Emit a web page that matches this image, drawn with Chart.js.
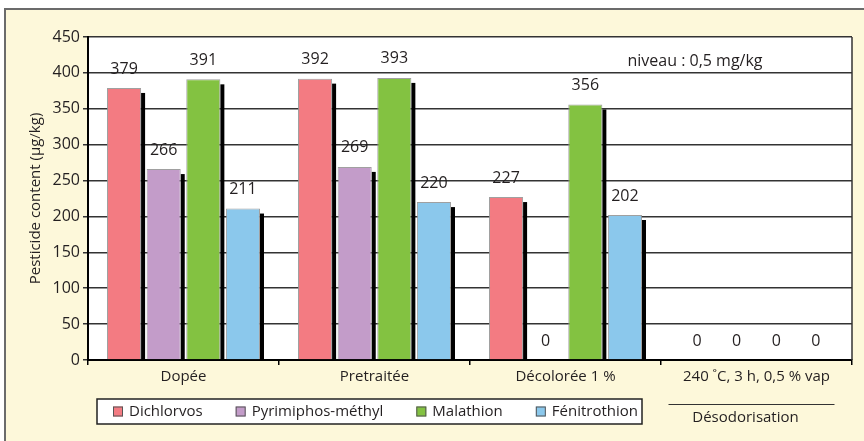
<!DOCTYPE html>
<html>
<head>
<meta charset="utf-8">
<script src="https://cdn.jsdelivr.net/npm/chart.js@4/dist/chart.umd.min.js"></script>
<style>
  html, body { margin: 0; padding: 0; background: #ffffff; }
  #wrap { width: 864px; height: 441px; position: relative; }
</style>
</head>
<body>
<div id="wrap"><canvas id="c" width="864" height="441"></canvas></div>
<script>
// Treatment stages and measured residues (µg/kg)
const categories = ['Dopée', 'Pretraitée', 'Décolorée 1 %', '240 ˚C, 3 h, 0,5 % vap'];
const dichlorvos = [379, 392, 227, 0];
const pyrimiphosMethyl = [266, 269, 0, 0];
const malathion = [391, 393, 356, 0];
const fenitrothion = [211, 220, 202, 0];
const seriesNames = ['Dichlorvos', 'Pyrimiphos-méthyl', 'Malathion', 'Fénitrothion'];
const yMin = 0, yMax = 450, yStep = 50;

const colors = ['#f37b82', '#c39cc9', '#83c241', '#8bc8ec'];
const FONT = '"Open Sans", "Noto Sans", sans-serif';
const TEXT = '#231f20';

const seriesValues = [dichlorvos, pyrimiphosMethyl, malathion, fenitrothion];

// Page frame, plot background, right border, shadows behind bars
const framePlugin = {
  id: 'frame',
  beforeDraw(chart) {
    const ctx = chart.ctx, a = chart.chartArea;
    ctx.save();
    ctx.fillStyle = '#ffffff';
    ctx.fillRect(0, 0, chart.width, chart.height);
    ctx.fillStyle = '#fdf8da';
    ctx.fillRect(5, 9, chart.width - 5, chart.height - 9);
    ctx.strokeStyle = '#6b6b6b';
    ctx.lineWidth = 2;
    ctx.beginPath();
    ctx.moveTo(5, chart.height);
    ctx.lineTo(5, 9);
    ctx.lineTo(chart.width, 9);
    ctx.stroke();
    ctx.fillStyle = '#ffffff';
    ctx.fillRect(a.left, a.top, a.right - a.left, a.bottom - a.top);
    ctx.restore();
  },
  beforeDatasetsDraw(chart) {
    const ctx = chart.ctx, a = chart.chartArea;
    ctx.save();
    ctx.beginPath();
    ctx.rect(a.left, a.top, a.right - a.left, a.bottom - a.top);
    ctx.clip();
    ctx.fillStyle = '#000000';
    chart.data.datasets.forEach((ds, i) => {
      chart.getDatasetMeta(i).data.forEach((el, j) => {
        if (ds.data[j] <= 0) return;
        const p = el.getProps(['x', 'y', 'base', 'width'], true);
        ctx.fillRect(p.x + p.width / 2, p.y + 5, 4, p.base - p.y - 5);
      });
    });
    ctx.restore();
  },
  afterDatasetsDraw(chart) {
    const ctx = chart.ctx, a = chart.chartArea;
    ctx.save();
    // right edge of the plot
    ctx.strokeStyle = '#333333';
    ctx.lineWidth = 1.5;
    ctx.beginPath();
    ctx.moveTo(a.right, a.top);
    ctx.lineTo(a.right, a.bottom);
    ctx.stroke();
    // value labels
    ctx.font = '16px ' + FONT;
    ctx.fillStyle = TEXT;
    ctx.textAlign = 'center';
    ctx.textBaseline = 'middle';
    chart.data.datasets.forEach((ds, i) => {
      chart.getDatasetMeta(i).data.forEach((el, j) => {
        const p = el.getProps(['x', 'y'], true);
        ctx.fillText(String(ds.data[j]), p.x, p.y - 19);
      });
    });
    // level note
    ctx.fillText('niveau : 0,5 mg/kg', a.right - 157, a.top + 24);
    // group caption under the last category
    ctx.font = '15px ' + FONT;
    const xs = chart.scales.x;
    const cx = xs.getPixelForValue(3);
    ctx.strokeStyle = '#333333';
    ctx.lineWidth = 1;
    ctx.beginPath();
    ctx.moveTo(cx - 88, 404.5);
    ctx.lineTo(cx + 78, 404.5);
    ctx.stroke();
    ctx.fillText('Désodorisation', cx - 11, 418);
    // legend
    const lx = 97, ly = 399, lw = 545, lh = 25;
    ctx.fillStyle = '#ffffff';
    ctx.fillRect(lx, ly, lw, lh);
    ctx.strokeStyle = '#222222';
    ctx.lineWidth = 1.5;
    ctx.strokeRect(lx, ly, lw, lh);
    let x = 113;
    const cy = ly + lh / 2;
    ctx.textAlign = 'left';
    seriesNames.forEach((name, i) => {
      ctx.fillStyle = colors[i];
      ctx.fillRect(x, cy - 5, 10, 10);
      ctx.strokeStyle = '#555555';
      ctx.lineWidth = 1;
      ctx.strokeRect(x + 0.5, cy - 4.5, 9, 9);
      ctx.fillStyle = TEXT;
      ctx.fillText(name, x + 16, cy);
      x += 16 + ctx.measureText(name).width + 33;
    });
    ctx.restore();
  }
};

new Chart(document.getElementById('c'), {
  type: 'bar',
  data: {
    labels: categories,
    datasets: seriesNames.map((name, i) => ({
      label: name,
      data: seriesValues[i],
      backgroundColor: colors[i],
      borderColor: 'rgba(150,150,150,0.9)',
      borderWidth: 1,
      categoryPercentage: 0.83,
      barPercentage: 0.86
    }))
  },
  options: {
    responsive: false,
    animation: false,
    devicePixelRatio: 1,
    layout: { padding: { left: 0, top: 37, right: 12, bottom: 0 } },
    plugins: { legend: { display: false }, tooltip: { enabled: false } },
    scales: {
      x: {
        offset: true,
        grid: { display: true, drawOnChartArea: false, offset: true, tickLength: 5, color: '#000000', lineWidth: 1.5 },
        border: { display: true, color: '#000000', width: 2 },
        ticks: { font: { family: FONT, size: 15 }, color: TEXT, padding: 3, maxRotation: 0 },
        afterFit(s) { s.height = 81; }
      },
      y: {
        min: yMin, max: yMax,
        grid: { color: '#333333', lineWidth: 1.5, tickLength: 5 },
        border: { display: true, color: '#000000', width: 2 },
        ticks: { stepSize: yStep, font: { family: FONT, size: 16 }, color: TEXT, padding: 3 },
        title: { display: true, text: 'Pesticide content (µg/kg)', font: { family: FONT, size: 15 }, color: TEXT, padding: { top: 27, bottom: 0 } },
        afterFit(s) { s.width = 88; }
      }
    }
  },
  plugins: [framePlugin]
});
</script>
</body>
</html>
